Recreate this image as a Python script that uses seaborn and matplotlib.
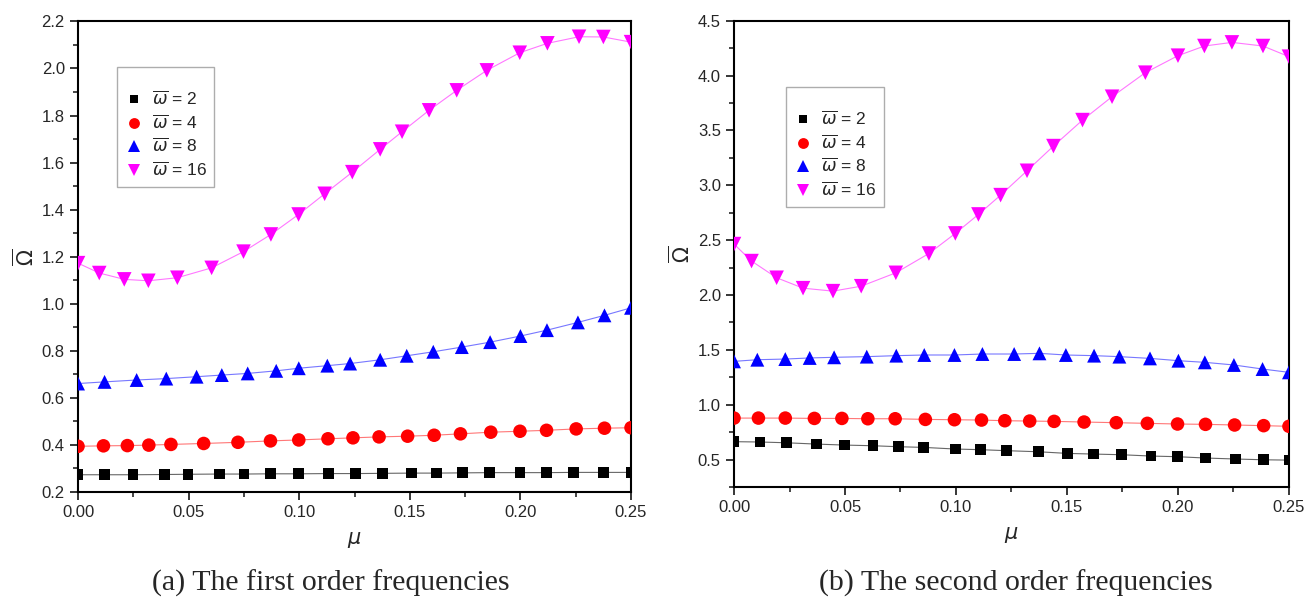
# Two panels: frequency parameter vs mu for four omega values
import numpy as np
import pandas as pd
import seaborn as sns
import matplotlib.pyplot as plt
from matplotlib.ticker import MultipleLocator

# ---- data ----
labels = [r"$\overline{\omega}$ = 2", r"$\overline{\omega}$ = 4",
          r"$\overline{\omega}$ = 8", r"$\overline{\omega}$ = 16"]

# (a) first order frequencies
mu_a_2 = [0, 0.012, 0.0248, 0.039, 0.0497, 0.0639, 0.075, 0.087, 0.0998, 0.1134, 0.1253,
          0.1378, 0.1507, 0.162, 0.1738, 0.1861, 0.1998, 0.2118, 0.224, 0.2377, 0.25]
om_a_2 = [0.272, 0.272, 0.272, 0.273, 0.274, 0.275, 0.275, 0.276, 0.276, 0.277, 0.277,
          0.278, 0.279, 0.279, 0.280, 0.281, 0.281, 0.281, 0.282, 0.282, 0.282]
mu_a_4 = [0, 0.0115, 0.0223, 0.032, 0.042, 0.0568, 0.0723, 0.087, 0.0998, 0.113, 0.1243,
          0.1361, 0.149, 0.161, 0.1729, 0.1866, 0.1998, 0.2118, 0.2252, 0.238, 0.25]
om_a_4 = [0.393, 0.395, 0.396, 0.398, 0.401, 0.405, 0.410, 0.416, 0.420, 0.425, 0.429,
          0.433, 0.436, 0.440, 0.446, 0.453, 0.457, 0.461, 0.467, 0.470, 0.472]
mu_a_8 = [0, 0.012, 0.0265, 0.0399, 0.0536, 0.065, 0.0767, 0.0896, 0.0998, 0.1127, 0.123,
          0.1366, 0.1486, 0.1606, 0.1735, 0.1863, 0.2, 0.212, 0.226, 0.238, 0.25]
om_a_8 = [0.660, 0.667, 0.675, 0.681, 0.689, 0.696, 0.703, 0.714, 0.725, 0.736, 0.745,
          0.761, 0.778, 0.795, 0.815, 0.836, 0.862, 0.887, 0.920, 0.950, 0.982]
mu_a_16 = [0, 0.0096, 0.0209, 0.0318, 0.0449, 0.0604, 0.0748, 0.0872, 0.0997, 0.1115, 0.124,
           0.1366, 0.1465, 0.1587, 0.1712, 0.1848, 0.1997, 0.2122, 0.2265, 0.2375, 0.25]
om_a_16 = [1.172, 1.130, 1.103, 1.097, 1.110, 1.152, 1.221, 1.294, 1.379, 1.467, 1.559,
           1.656, 1.731, 1.822, 1.907, 1.992, 2.067, 2.107, 2.135, 2.134, 2.112]

# (b) second order frequencies
mu_b_2 = [0, 0.0117, 0.0236, 0.0371, 0.0498, 0.0626, 0.074, 0.0853, 0.0997, 0.111, 0.1227,
          0.1372, 0.1503, 0.1621, 0.1745, 0.1879, 0.1997, 0.2124, 0.2259, 0.2386, 0.25]
om_b_2 = [0.663, 0.660, 0.653, 0.641, 0.632, 0.626, 0.617, 0.611, 0.596, 0.590, 0.581,
          0.571, 0.556, 0.550, 0.544, 0.532, 0.526, 0.514, 0.505, 0.498, 0.495]
mu_b_4 = [0, 0.011, 0.0231, 0.0362, 0.0486, 0.0603, 0.0726, 0.0862, 0.0993, 0.1115, 0.122,
          0.1332, 0.1442, 0.1577, 0.1722, 0.1862, 0.1998, 0.2124, 0.2255, 0.2386, 0.25]
om_b_4 = [0.878, 0.878, 0.878, 0.875, 0.875, 0.872, 0.872, 0.866, 0.863, 0.860, 0.854,
          0.851, 0.848, 0.842, 0.836, 0.830, 0.824, 0.821, 0.815, 0.809, 0.803]
mu_b_8 = [0, 0.0105, 0.0231, 0.0341, 0.0451, 0.0598, 0.0731, 0.0857, 0.0993, 0.1119, 0.1262,
          0.1376, 0.1495, 0.1622, 0.1736, 0.1874, 0.2002, 0.2121, 0.2252, 0.2381, 0.25]
om_b_8 = [1.395, 1.410, 1.416, 1.426, 1.432, 1.438, 1.447, 1.453, 1.453, 1.462, 1.462,
          1.468, 1.453, 1.447, 1.438, 1.422, 1.401, 1.386, 1.362, 1.325, 1.295]
mu_b_16 = [0, 0.0079, 0.0192, 0.0311, 0.0446, 0.0573, 0.0729, 0.0878, 0.0997, 0.1101, 0.1201,
           0.132, 0.1439, 0.157, 0.1703, 0.1853, 0.2, 0.2119, 0.2243, 0.2383, 0.25]
om_b_16 = [2.464, 2.309, 2.157, 2.062, 2.035, 2.080, 2.202, 2.378, 2.561, 2.734, 2.910,
           3.132, 3.357, 3.594, 3.807, 4.026, 4.181, 4.269, 4.302, 4.269, 4.172]


def long_df(mus, oms):
    parts = []
    for lab, m, o in zip(labels, mus, oms):
        parts.append(pd.DataFrame({"mu": m, "Omega": o, "series": lab}))
    return pd.concat(parts, ignore_index=True)


df_a = long_df([mu_a_2, mu_a_4, mu_a_8, mu_a_16], [om_a_2, om_a_4, om_a_8, om_a_16])
df_b = long_df([mu_b_2, mu_b_4, mu_b_8, mu_b_16], [om_b_2, om_b_4, om_b_8, om_b_16])

sns.set_style("ticks")
plt.rcParams["font.family"] = ["Liberation Sans", "DejaVu Sans"]
plt.rcParams["mathtext.fontset"] = "dejavusans"

colors = dict(zip(labels, ["#000000", "#ff0000", "#0000ff", "#ff00ff"]))
line_colors = dict(zip(labels, ["#666666", "#ff7777", "#7777ff", "#ff77ff"]))
markers = dict(zip(labels, ["s", "o", "^", "v"]))
sizes = dict(zip(labels, [60, 95, 100, 110]))

fig = plt.figure(figsize=(13.07, 6.01), dpi=100)
ax_a = fig.add_axes([0.0597, 0.1819, 0.4231, 0.7824])
ax_b = fig.add_axes([0.5616, 0.1897, 0.4246, 0.7759])

panels = [
    (ax_a, df_a, (0.2, 2.2), 0.2, 0.1, (0.0705, 0.903)),
    (ax_b, df_b, (0.25, 4.5), 0.5, 0.25, (0.094, 0.858)),
]

for ax, df, ylim, major, minor, leg_pos in panels:
    sns.lineplot(data=df, x="mu", y="Omega", hue="series", palette=line_colors,
                 sort=False, estimator=None, lw=0.8, legend=False, ax=ax)
    sns.scatterplot(data=df, x="mu", y="Omega", hue="series", style="series",
                    size="series", sizes=sizes, markers=markers, palette=colors,
                    linewidth=0, ax=ax, zorder=3)
    ax.set_xlim(0, 0.25)
    ax.set_ylim(*ylim)
    ax.xaxis.set_major_locator(MultipleLocator(0.05))
    ax.xaxis.set_minor_locator(MultipleLocator(0.025))
    ax.yaxis.set_major_locator(MultipleLocator(major))
    ax.yaxis.set_minor_locator(MultipleLocator(minor))
    ax.xaxis.set_major_formatter(plt.FormatStrFormatter("%.2f"))
    ax.yaxis.set_major_formatter(plt.FormatStrFormatter("%.1f"))
    ax.tick_params(which="major", direction="out", length=6, width=1.3, labelsize=12,
                   top=False, right=False)
    ax.tick_params(which="minor", direction="out", length=3.5, width=1.2,
                   top=False, right=False)
    for sp in ax.spines.values():
        sp.set_linewidth(1.5)
        sp.set_color("black")
    ax.set_xlabel(r"$\mu$", fontsize=15, labelpad=7)
    ax.set_ylabel(r"$\overline{\Omega}$", fontsize=15, labelpad=3)

    handles, labs = ax.get_legend_handles_labels()
    leg = ax.legend(handles, labs, loc="upper left", bbox_to_anchor=leg_pos,
                    borderaxespad=0, fontsize=12.5, frameon=True, fancybox=False,
                    edgecolor="#999999", borderpad=0.45, labelspacing=0.3,
                    handletextpad=0.55, handlelength=1.0, markerscale=0.8,
                    title=" ", title_fontsize=7)
    leg.get_frame().set_linewidth(1.0)

fig.text(0.2533, 0.029, "(a) The first order frequencies", ha="center", va="center",
         fontsize=21.5, family="Liberation Serif")
fig.text(0.7774, 0.029, "(b) The second order frequencies", ha="center", va="center",
         fontsize=21.5, family="Liberation Serif")

fig.savefig("out.png", dpi=100)
